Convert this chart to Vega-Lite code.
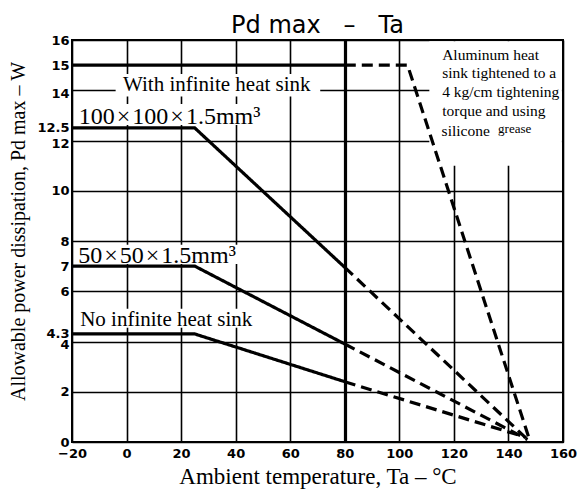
{
  "$schema": "https://vega.github.io/schema/vega-lite/v6.json",
  "width": 491,
  "height": 402,
  "autosize": "none",
  "padding": {"left": 72, "top": 40, "right": 18, "bottom": 50},
  "background": "white",
  "title": {"text": "Pd max\u00a0\u00a0\u00a0–\u00a0\u00a0\u00a0Ta", "font": "DejaVu Sans", "fontSize": 24, "fontWeight": "normal", "color": "black", "offset": -4, "anchor": "middle"},
  "config": {
    "view": {"stroke": "black", "strokeWidth": 2},
    "axis": {"labelColor": "black", "titleColor": "black"}
  },
  "datasets": {
    "curves": [
      {"series": "With infinite heat sink", "part": "solid", "T": -20, "P": 15},
      {"series": "With infinite heat sink", "part": "solid", "T": 80, "P": 15},
      {"series": "With infinite heat sink", "part": "dashed", "T": 80, "P": 15},
      {"series": "With infinite heat sink", "part": "dashed", "T": 103, "P": 15},
      {"series": "With infinite heat sink", "part": "dashed", "T": 148, "P": 0},
      {"series": "100x100", "part": "solid", "T": -20, "P": 12.5},
      {"series": "100x100", "part": "solid", "T": 25, "P": 12.5},
      {"series": "100x100", "part": "solid", "T": 80, "P": 6.95},
      {"series": "100x100", "part": "dashed", "T": 80, "P": 6.95},
      {"series": "100x100", "part": "dashed", "T": 147, "P": 0.1},
      {"series": "50x50", "part": "solid", "T": -20, "P": 7},
      {"series": "50x50", "part": "solid", "T": 25, "P": 7},
      {"series": "50x50", "part": "solid", "T": 80, "P": 3.9},
      {"series": "50x50", "part": "dashed", "T": 80, "P": 3.9},
      {"series": "50x50", "part": "dashed", "T": 147, "P": 0.1},
      {"series": "No infinite heat sink", "part": "solid", "T": -20, "P": 4.3},
      {"series": "No infinite heat sink", "part": "solid", "T": 25, "P": 4.3},
      {"series": "No infinite heat sink", "part": "solid", "T": 80, "P": 2.4},
      {"series": "No infinite heat sink", "part": "dashed", "T": 80, "P": 2.4},
      {"series": "No infinite heat sink", "part": "dashed", "T": 146, "P": 0.2}
    ],
    "masks": [
      {"T": 111, "T2": 159.6, "P": 11, "P2": 15.95},
      {"T": -4, "T2": 71, "P": 13.75, "P2": 14.65},
      {"T": -18, "T2": 47, "P": 12.62, "P2": 13.45},
      {"T": -18, "T2": 45, "P": 7.08, "P2": 7.85},
      {"T": -18, "T2": 47, "P": 4.55, "P2": 5.3}
    ],
    "bigLabels": [
      {"label": "100\u200a×\u200a100\u200a×\u200a1.5mm³", "T": -17.5, "P": 12.95},
      {"label": "50\u200a×\u200a50\u200a×\u200a1.5mm³", "T": -17.7, "P": 7.42}
    ],
    "midLabels": [
      {"label": "With infinite heat sink", "T": -1.3, "P": 14.22},
      {"label": "No infinite heat sink", "T": -17, "P": 4.86}
    ],
    "note": [
      {"label": "Aluminum heat", "T": 115.7, "P": 15.39},
      {"label": "sink tightened to a", "T": 115.7, "P": 14.67},
      {"label": "4 kg/cm tightening", "T": 115.7, "P": 13.92},
      {"label": "torque and using", "T": 115.7, "P": 13.16},
      {"label": "silicone", "T": 115.5, "P": 12.39}
    ],
    "noteSmall": [
      {"label": "grease", "T": 136.2, "P": 12.45}
    ]
  },
  "layer": [
    {
      "data": {"name": "masks"},
      "mark": {"type": "rect", "color": "white"},
      "encoding": {
        "x": {"field": "T", "type": "quantitative", "scale": {"domain": [-20, 160], "nice": false, "zero": false},
          "axis": {
            "values": [-20, 0, 20, 40, 60, 80, 100, 120, 140, 160], "tickCount": 20, "format": "d",
            "grid": true, "gridColor": "black", "gridOpacity": 1,
            "gridWidth": {"condition": {"test": "datum.value == 80", "value": 3.2}, "value": 1.6},
            "domain": false, "ticks": false, "labelFlush": false,
            "labelFont": "DejaVu Sans", "labelFontWeight": "bold", "labelFontSize": 13, "labelPadding": 5,
            "title": "Ambient temperature, Ta – °C", "titleFont": "Liberation Serif", "titleFontSize": 23, "titleFontWeight": "normal", "titlePadding": 5
          }},
        "x2": {"field": "T2"},
        "y": {"field": "P", "type": "quantitative", "scale": {"domain": [0, 16], "nice": false, "zero": false},
          "axis": {
            "values": [0, 2, 4, 4.3, 6, 7, 8, 10, 12, 12.5, 14, 15, 16], "tickCount": 30, "format": ".3~g",
            "grid": true, "gridColor": "black", "gridWidth": 1.6,
            "gridOpacity": {"condition": {"test": "datum.value == 4.3 || datum.value == 7 || datum.value == 12.5 || datum.value == 15", "value": 0}, "value": 1},
            "labelOffset": {"condition": {"test": "datum.value == 12 || datum.value == 4 || datum.value == 14", "value": 3}, "value": 0},
            "domain": false, "ticks": false, "labelOverlap": false, "labelPadding": 3,
            "labelFont": "DejaVu Sans", "labelFontWeight": "bold", "labelFontSize": 13,
            "title": "Allowable power dissipation, Pd max – W", "titleFont": "Liberation Serif", "titleFontSize": 20, "titleFontWeight": "normal", "titlePadding": 8, "titleY": 191
          }},
        "y2": {"field": "P2"}
      }
    },
    {
      "data": {"name": "curves"},
      "mark": {"type": "line", "color": "black", "strokeWidth": 3.2, "strokeCap": "butt"},
      "encoding": {
        "x": {"field": "T", "type": "quantitative"},
        "y": {"field": "P", "type": "quantitative"},
        "detail": [{"field": "series"}, {"field": "part"}],
        "strokeDash": {"field": "part", "type": "nominal", "scale": {"domain": ["solid", "dashed"], "range": [[1, 0], [11, 6]]}, "legend": null}
      }
    },
    {
      "data": {"name": "bigLabels"},
      "mark": {"type": "text", "align": "left", "baseline": "middle", "font": "Liberation Serif", "fontSize": 24, "color": "black"},
      "encoding": {
        "x": {"field": "T", "type": "quantitative"},
        "y": {"field": "P", "type": "quantitative"},
        "text": {"field": "label"}
      }
    },
    {
      "data": {"name": "midLabels"},
      "mark": {"type": "text", "align": "left", "baseline": "middle", "font": "Liberation Serif", "fontSize": 21, "color": "black"},
      "encoding": {
        "x": {"field": "T", "type": "quantitative"},
        "y": {"field": "P", "type": "quantitative"},
        "text": {"field": "label"}
      }
    },
    {
      "data": {"name": "note"},
      "mark": {"type": "text", "align": "left", "baseline": "middle", "font": "Liberation Serif", "fontSize": 15.5, "color": "black"},
      "encoding": {
        "x": {"field": "T", "type": "quantitative"},
        "y": {"field": "P", "type": "quantitative"},
        "text": {"field": "label"}
      }
    },
    {
      "data": {"name": "noteSmall"},
      "mark": {"type": "text", "align": "left", "baseline": "middle", "font": "Liberation Serif", "fontSize": 13, "color": "black"},
      "encoding": {
        "x": {"field": "T", "type": "quantitative"},
        "y": {"field": "P", "type": "quantitative"},
        "text": {"field": "label"}
      }
    }
  ]
}
